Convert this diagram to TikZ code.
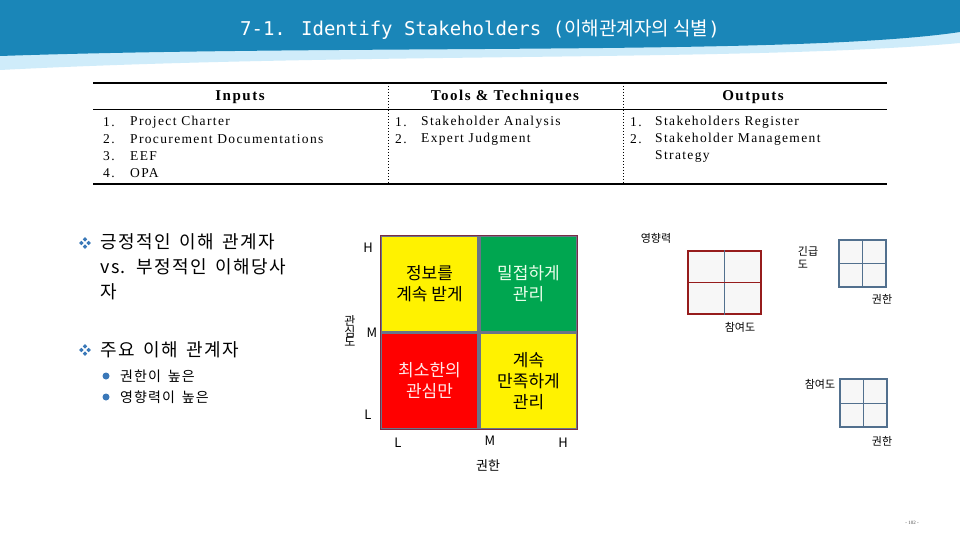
\documentclass[tikz,border=0pt]{standalone}
\usepackage{fontspec}
\setmainfont{Liberation Serif}
\newfontfamily\cjk{Noto Sans CJK KR}
\newfontfamily\cjkwide[WordSpace=1.6,LetterSpace=8]{Noto Sans CJK KR}
\newfontfamily\tabfont[LetterSpace=10]{Liberation Serif}
\newfontfamily\titlemono{DejaVu Sans Mono}
\definecolor{bandblue}{HTML}{1A86B8}
\definecolor{bandlight}{HTML}{CFECFA}
\definecolor{bulletblue}{HTML}{3A78B8}
\definecolor{quadgreen}{HTML}{00A650}
\definecolor{cellline}{HTML}{6A7488}
\definecolor{outerline}{HTML}{7A2C44}
\definecolor{boxred}{HTML}{961C1C}
\definecolor{boxblue}{HTML}{52708E}
\definecolor{boxfill}{HTML}{F7F7F7}
\tikzset{
  head/.style={inner sep=0pt, font=\tabfont\bfseries\fontsize{15}{17}\selectfont},
  item/.style={anchor=west, inner sep=0pt, font=\tabfont\fontsize{13.5}{15}\selectfont},
  cell/.style={draw=cellline, line width=1.2pt, minimum width=97pt, minimum height=96pt,
    inner sep=0pt, align=center, font=\cjk\fontsize{17}{21}\selectfont},
  tick/.style={inner sep=0pt, font=\cjk\fontsize{13}{15}\selectfont},
  note/.style={inner sep=0pt, font=\cjk\fontsize{11}{13}\selectfont},
  minigrid/.style={draw=boxblue, line width=2pt, fill=boxfill, inner sep=0pt},
  dmd/.pic={
    \foreach \a in {0,90,180,270}
      \fill[bulletblue, shift={(\a:3.6)}] (0,2.2) -- (2.2,0) -- (0,-2.2) -- (-2.2,0) -- cycle;
  }
}
\begin{document}
\begin{tikzpicture}[x=1pt, y=-1pt]
  \useasboundingbox (0,0) rectangle (960,540);
  \fill[white] (0,0) rectangle (960,540);

  \fill[bandlight] (0,0) -- (960,0) -- (960,43)
      .. controls (750,62) and (350,52) .. (0,70) -- cycle;
  \fill[bandblue] (0,0) -- (960,0) -- (960,32)
      .. controls (800,56) and (350,44) .. (0,56) -- cycle;
  \node[text=white, font=\titlemono\fontsize{19}{22}\selectfont] (title) at (480,30)
      {7-1. Identify Stakeholders ({\cjk 이해관계자의 식별})};

  \draw[line width=2pt] (93,83) -- (887,83);
  \draw[line width=0.8pt] (93,109) -- (887,109);
  \draw[line width=2pt] (93,184) -- (887,184);
  \draw[dotted, line width=1pt] (388,83) -- (388,184);
  \draw[dotted, line width=1pt] (623,83) -- (623,184);

  \node[head] (inputs) at (240,97) {Inputs};
  \node[head] (tools) at (505,97) {Tools \& Techniques};
  \node[head] (outputs) at (753,97) {Outputs};

  \foreach \n/\t/\y in {1/Project Charter/122, 2/Procurement Documentations/139,
                        3/EEF/156, 4/OPA/173} {
    \node[item] (in\n) at (103,\y) {\n.};
    \node[item] at (130,\y) {\t};
  }
  \foreach \n/\t/\y in {1/Stakeholder Analysis/122, 2/Expert Judgment/139} {
    \node[item] (tt\n) at (395,\y) {\n.};
    \node[item] at (421,\y) {\t};
  }
  \node[item] (out1) at (630,122) {1.};
  \node[item] at (655,122) {Stakeholders Register};
  \node[item] (out2) at (630,139) {2.};
  \node[item] at (655,139) {Stakeholder Management};
  \node[item] at (655,156) {Strategy};

  \pic at (85,243) {dmd};
  \node[anchor=north west, inner sep=0pt, align=left,
        font=\cjkwide\fontsize{18}{25}\selectfont] (pos) at (100,233)
      {긍정적인 이해 관계자\\vs. 부정적인 이해당사\\자};
  \pic at (85,350) {dmd};
  \node[anchor=west, inner sep=0pt, font=\cjkwide\fontsize{18}{22}\selectfont] (key) at (100,350)
      {주요 이해 관계자};
  \fill[bulletblue] (106,376) circle [radius=3.5];
  \fill[bulletblue] (106,397) circle [radius=3.5];
  \node[anchor=west, inner sep=0pt, font=\cjkwide\fontsize{14}{16}\selectfont] (power) at (120,376)
      {권한이 높은};
  \node[anchor=west, inner sep=0pt, font=\cjkwide\fontsize{14}{16}\selectfont] (infl) at (120,397)
      {영향력이 높은};

  \node[cell, fill=yellow] (tl) at (429.5,284) {정보를\\계속 받게};
  \node[cell, fill=quadgreen, text=white!92!green] (tr) at (528.5,284) {밀접하게\\관리};
  \node[cell, fill=red, text=white!92!red] (bl) at (429.5,381) {최소한의\\관심만};
  \node[cell, fill=yellow] (br) at (528.5,381) {계속\\만족하게\\관리};
  \draw[outerline, line width=1.6pt] (tl.north west) rectangle (br.south east);

  \node[tick] (yh) at (368,248) {H};
  \node[tick] (ym) at (372,333) {M};
  \node[tick] (yl) at (368,415) {L};
  \node[inner sep=0pt, align=center, font=\cjk\fontsize{12}{10}\selectfont] (ylab) at (350,331)
      {관\\심\\도};
  \node[tick] (xl) at (398,443) {L};
  \node[tick] (xm) at (490,441) {M};
  \node[tick] (xh) at (563,443) {H};
  \node[tick] (xlab) at (488,466) {권한};

  \node[note] (infl2) at (656,238) {영향력};
  \node[minigrid, draw=boxred, minimum width=73pt, minimum height=63pt] (rbox) at (724.5,282.5) {};
  \draw[boxblue, line width=0.9pt] (rbox.north) -- (rbox.south);
  \draw[boxred, line width=0.9pt] (rbox.west) -- (rbox.east);
  \node[note] (part1) at (740,327) {참여도};

  \node[minigrid, minimum width=47pt, minimum height=47pt] (ubox) at (862.5,263.5) {};
  \draw[boxblue, line width=0.9pt] (ubox.north) -- (ubox.south);
  \draw[boxblue, line width=0.9pt] (ubox.west) -- (ubox.east);
  \node[note, align=left] (urg) at (808,257) {긴급\\도};
  \node[note] (pow1) at (882,299) {권한};

  \node[minigrid, minimum width=47pt, minimum height=48pt] (lbox) at (863.5,403) {};
  \draw[boxblue, line width=0.9pt] (lbox.north) -- (lbox.south);
  \draw[boxblue, line width=0.9pt] (lbox.west) -- (lbox.east);
  \node[note] (part2) at (820,384) {참여도};
  \node[note] (pow2) at (882,441) {권한};

  \node[inner sep=0pt, text=black!70, font=\fontsize{5}{6}\selectfont] (page) at (912,523) {- 102 -};
\end{tikzpicture}
\end{document}
